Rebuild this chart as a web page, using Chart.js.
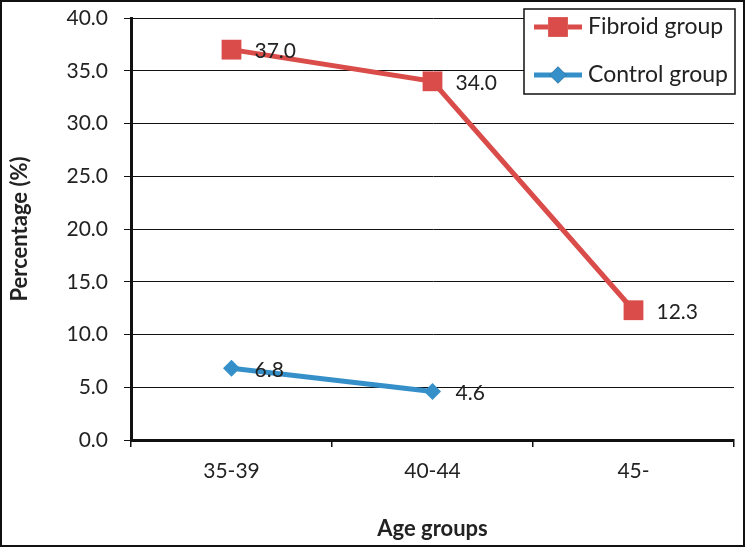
<!DOCTYPE html>
<html><head><meta charset="utf-8">
<script src="https://cdn.jsdelivr.net/npm/chart.js@4/dist/chart.umd.min.js"></script>
<style>
html,body{margin:0;padding:0;background:#fff;}
#wrap{position:absolute;left:0;top:0;width:745px;height:547px;box-sizing:border-box;border:2px solid #111;background:#fff;}
canvas{display:block;}
</style></head>
<body>
<div id="wrap"><canvas id="c"></canvas></div>
<script>
const categories = ['35-39', '40-44', '45-'];
const fibroidValues = [37.0, 34.0, 12.3];
const controlValues = [6.8, 4.6, null];
const seriesNames = ['Fibroid group', 'Control group'];
const yTicks = [0, 5, 10, 15, 20, 25, 30, 35, 40];

const RED = '#d94c49';
const BLUE = '#3590c9';
const FONT = 'Lato, "Open Sans", sans-serif';
const TXT = '#222';

const valueLabels = {
  id: 'valueLabels',
  afterDatasetsDraw(chart) {
    const ctx = chart.ctx;
    ctx.save();
    ctx.font = '21px ' + FONT;
    ctx.fillStyle = TXT;
    ctx.textAlign = 'left';
    ctx.textBaseline = 'middle';
    chart.data.datasets.forEach((ds, i) => {
      const meta = chart.getDatasetMeta(i);
      meta.data.forEach((pt, j) => {
        const v = ds.data[j];
        if (v === null || v === undefined) return;
        ctx.fillText(v.toFixed(1), pt.x + 23, pt.y + 2);
      });
    });
    ctx.restore();
  }
};

const boxLegend = {
  id: 'boxLegend',
  afterDraw(chart) {
    const ctx = chart.ctx;
    const ca = chart.chartArea;
    const x0 = ca.right - 210, y0 = 7, w = 211, h = 85;
    ctx.save();
    ctx.fillStyle = '#fff';
    ctx.fillRect(x0, y0, w, h);
    ctx.strokeStyle = '#111';
    ctx.lineWidth = 1.5;
    ctx.strokeRect(x0, y0, w, h);
    const rows = [y0 + 18, y0 + 66];
    chart.data.datasets.forEach((ds, i) => {
      const y = rows[i];
      ctx.strokeStyle = ds.borderColor;
      ctx.lineWidth = 5;
      ctx.beginPath();
      ctx.moveTo(x0 + 10, y);
      ctx.lineTo(x0 + 58, y);
      ctx.stroke();
      Chart.helpers.drawPoint(ctx, {pointStyle: ds.pointStyle, radius: ds.pointRadius, borderWidth: 0}, x0 + 34, y);
      ctx.fillStyle = ds.backgroundColor;
      ctx.fill();
      ctx.fillStyle = TXT;
      ctx.font = '23px ' + FONT;
      ctx.textAlign = 'left';
      ctx.textBaseline = 'middle';
      ctx.fillText(ds.label, x0 + 64, y);
    });
    ctx.restore();
  }
};

function zeroPad(s) { s.paddingTop = 0; s.paddingBottom = 0; s.paddingLeft = 0; s.paddingRight = 0; }

new Chart(document.getElementById('c'), {
  type: 'line',
  data: {
    labels: categories,
    datasets: [
      {label: seriesNames[0], data: fibroidValues, borderColor: RED, backgroundColor: RED,
       borderWidth: 5, pointStyle: 'rect', pointRadius: 14, pointHoverRadius: 14, pointBorderWidth: 0, tension: 0},
      {label: seriesNames[1], data: controlValues, borderColor: BLUE, backgroundColor: BLUE,
       borderWidth: 5, pointStyle: 'rectRot', pointRadius: 8.5, pointHoverRadius: 8.5, pointBorderWidth: 0, tension: 0}
    ]
  },
  options: {
    responsive: true,
    maintainAspectRatio: false,
    animation: false,
    events: [],
    layout: {autoPadding: false, padding: {left: 0, right: 9, top: 16, bottom: 0}},
    plugins: {legend: {display: false}, tooltip: {enabled: false}},
    scales: {
      x: {
        offset: true,
        grid: {display: true, drawOnChartArea: false, drawTicks: true, tickLength: 7, offset: true, color: '#111', lineWidth: 1.5},
        border: {display: true, color: '#111', width: 3},
        ticks: {color: TXT, font: {family: FONT, size: 21}, padding: 12},
        title: {display: true, text: 'Age groups', color: TXT, font: {family: FONT, size: 22, weight: 'bold'}, padding: {top: 0, bottom: 3}},
        afterFit(s) { s.height = 105; zeroPad(s); }
      },
      y: {
        min: 0, max: 40,
        afterBuildTicks(s) { s.ticks = yTicks.map(v => ({value: v})); },
        grid: {color: '#111', lineWidth: 1, tickLength: 7, drawTicks: true},
        border: {display: true, color: '#111', width: 3},
        ticks: {color: TXT, font: {family: FONT, size: 21}, padding: 16, callback: v => Number(v).toFixed(1)},
        title: {display: true, text: 'Percentage (%)', color: TXT, font: {family: FONT, size: 22, weight: 'bold'}, padding: {top: 5, bottom: 0}},
        afterFit(s) { s.width = 129; zeroPad(s); }
      }
    }
  },
  plugins: [valueLabels, boxLegend]
});
</script>
</body></html>
